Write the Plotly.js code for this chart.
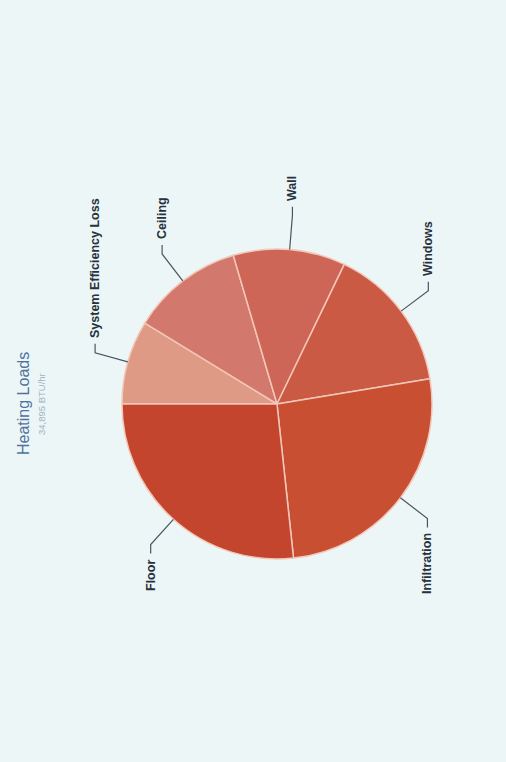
<!DOCTYPE html>
<html>
<head>
<meta charset="utf-8">
<script src="https://cdn.plot.ly/plotly-3.0.1.min.js"></script>
<style>
  html, body { margin: 0; padding: 0; width: 506px; height: 762px; overflow: hidden; background: #edf6f6; }
  #chart { position: absolute; left: 0; top: 0; width: 762px; height: 506px;
           transform-origin: 0 0; transform: translate(0px, 762px) rotate(-90deg); }
</style>
</head>
<body>
<div id="chart"></div>
<script>
// Data, in clockwise order from 12 o'clock
const labels = ['System Efficiency Loss', 'Ceiling', 'Wall', 'Windows', 'Infiltration', 'Floor'];
const values = [3053, 4083, 4083, 5321, 9038, 9317];
const colors = ['#df9a86', '#d2786c', '#ce6657', '#cb5a45', '#c84f32', '#c4452e'];
const titleText = 'Heating Loads';
const subtitleText = '34,895 BTU/hr';

// Figure geometry (unrotated orientation)
const W = 762, H = 506;
const cx = 358, cy = 277, R = 155;
const domX = [(cx - R) / W, (cx + R) / W];
const domY = [1 - (cy + R) / H, 1 - (cy - R) / H];

const total = values.reduce((a, b) => a + b, 0);
const px = u => u / W;
const py = v => 1 - v / H;

const shapes = [];
const annotations = [];
let cum = 0;
labels.forEach((lab, i) => {
  const frac = (cum + values[i] / 2) / total;
  cum += values[i];
  const th = (90 - 360 * frac) * Math.PI / 180; // clockwise from 12 o'clock
  const c = Math.cos(th), s = Math.sin(th);
  const x0 = cx + R * c, y0 = cy - R * s;
  const x1 = cx + (R + 34) * c, y1 = cy - (R + 34) * s;
  const sg = c >= 0 ? 1 : -1;
  const x2 = x1 + sg * 9;
  shapes.push({
    type: 'path', xref: 'paper', yref: 'paper',
    path: `M ${px(x0)} ${py(y0)} L ${px(x1)} ${py(y1)} L ${px(x2)} ${py(y1)}`,
    line: { color: '#4a5560', width: 1.2 }
  });
  annotations.push({
    xref: 'paper', yref: 'paper', x: px(x2 + sg * 4), y: py(y1),
    xanchor: sg > 0 ? 'left' : 'right', yanchor: 'middle',
    text: '<b>' + lab + '</b>', showarrow: false,
    font: { family: 'Liberation Sans, Arial, sans-serif', size: 12.5, color: '#27323d' }
  });
});

annotations.push({
  xref: 'paper', yref: 'paper', x: px(cx), y: py(24), xanchor: 'center', yanchor: 'middle',
  text: titleText, showarrow: false,
  font: { family: 'Liberation Sans, Arial, sans-serif', size: 16, color: '#4f73a0' }
});
annotations.push({
  xref: 'paper', yref: 'paper', x: px(cx), y: py(42), xanchor: 'center', yanchor: 'middle',
  text: subtitleText, showarrow: false,
  font: { family: 'Liberation Sans, Arial, sans-serif', size: 9.5, color: '#9fb3c6' }
});

const trace = {
  type: 'pie', labels: labels, values: values, sort: false,
  direction: 'clockwise', rotation: 0,
  marker: { colors: colors, line: { color: '#f3c7b8', width: 1.5 } },
  textinfo: 'none', textposition: 'none', hoverinfo: 'label+value',
  domain: { x: domX, y: domY }, showlegend: false
};

Plotly.newPlot('chart', [trace], {
  width: W, height: H, margin: { l: 0, r: 0, t: 0, b: 0 },
  paper_bgcolor: '#edf6f6', plot_bgcolor: '#edf6f6',
  showlegend: false, shapes: shapes, annotations: annotations
}, { displayModeBar: false, staticPlot: true });
</script>
</body>
</html>
